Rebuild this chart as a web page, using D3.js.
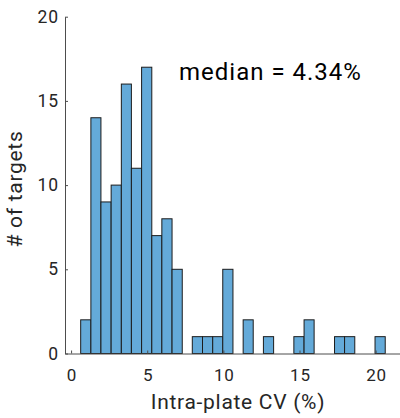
<!DOCTYPE html>
<html>
<head>
<meta charset="utf-8">
<script src="https://cdn.jsdelivr.net/npm/d3@7"></script>
<style>
  html, body { margin: 0; padding: 0; background: #fff; }
  svg { display: block; }
  text { font-family: Roboto, "Liberation Sans", sans-serif; fill: #262626; }
</style>
</head>
<body>
<svg id="chart" width="400" height="418"></svg>
<script>
// Histogram bin edges (Intra-plate CV, %)
const binEdges = [0.63, 1.30, 1.96, 2.63, 3.30, 3.96, 4.63, 5.30, 5.96, 6.63,
                  7.30, 7.96, 8.63, 9.30, 9.96, 10.63, 11.30, 11.96, 12.63, 13.30,
                  13.96, 14.63, 15.30, 15.96, 16.63, 17.30, 17.96, 18.63, 19.30, 19.96, 20.63];
// Counts per bin (# of targets)
const counts = [2, 14, 9, 10, 16, 11, 17, 7, 8, 5,
                0, 1, 1, 1, 5, 0, 2, 0, 1, 0,
                0, 1, 2, 0, 0, 1, 1, 0, 0, 1];
const xTicks = [0, 5, 10, 15, 20];
const yTicks = [0, 5, 10, 15, 20];
const xLabel = "Intra-plate CV (%)";
const yLabel = "# of targets";
const annotation = "median = 4.34%";

const bins = counts.map((c, i) => ({ x0: binEdges[i], x1: binEdges[i + 1], count: c }));

const svg = d3.select("#chart");
const x = d3.scaleLinear().domain([-0.4, 21.6]).range([65, 400]);
const y = d3.scaleLinear().domain([0, 20]).range([353.5, 16.7]);

// bars
svg.append("g").selectAll("rect")
  .data(bins.filter(d => d.count > 0))
  .join("rect")
  .attr("x", d => x(d.x0))
  .attr("y", d => y(d.count))
  .attr("width", d => x(d.x1) - x(d.x0))
  .attr("height", d => y(0) - y(d.count))
  .attr("fill", "#64aad9")
  .attr("stroke", "#1c1c1c")
  .attr("stroke-width", 1);

// x axis
const gx = svg.append("g")
  .attr("transform", `translate(0,${y(0)})`)
  .call(d3.axisBottom(x).tickValues(xTicks).tickSizeInner(-3).tickSizeOuter(0).tickPadding(15));
gx.select(".domain").attr("stroke", "#4d4d4d");
gx.selectAll(".tick line").attr("stroke", "#4d4d4d");
gx.selectAll(".tick text").attr("font-size", 17).attr("font-family", "Roboto, sans-serif")
  .attr("fill", "#262626").style("letter-spacing", "0.8px").attr("dx", "0.4px");

// y axis
const gy = svg.append("g")
  .attr("transform", `translate(${x(-0.4)},0)`)
  .call(d3.axisLeft(y).tickValues(yTicks).tickSizeInner(-3).tickSizeOuter(0).tickPadding(7));
gy.select(".domain").attr("stroke", "#4d4d4d");
gy.selectAll(".tick line").attr("stroke", "#4d4d4d");
gy.selectAll(".tick text").attr("font-size", 17.5).attr("font-family", "Roboto, sans-serif")
  .attr("fill", "#262626").style("letter-spacing", "0.8px").attr("dx", "0.8px");

// axis labels
svg.append("text")
  .attr("x", 238).attr("y", 409)
  .attr("text-anchor", "middle")
  .attr("font-size", 21)
  .style("letter-spacing", "0.7px")
  .text(xLabel);

svg.append("text")
  .attr("transform", `translate(22,189) rotate(-90)`)
  .attr("text-anchor", "middle")
  .attr("font-size", 21)
  .style("letter-spacing", "0.7px")
  .text(yLabel);

// annotation
svg.append("text")
  .attr("x", 179).attr("y", 80)
  .attr("font-size", 24)
  .style("letter-spacing", "1px")
  .style("fill", "#000")
  .text(annotation);
</script>
</body>
</html>
